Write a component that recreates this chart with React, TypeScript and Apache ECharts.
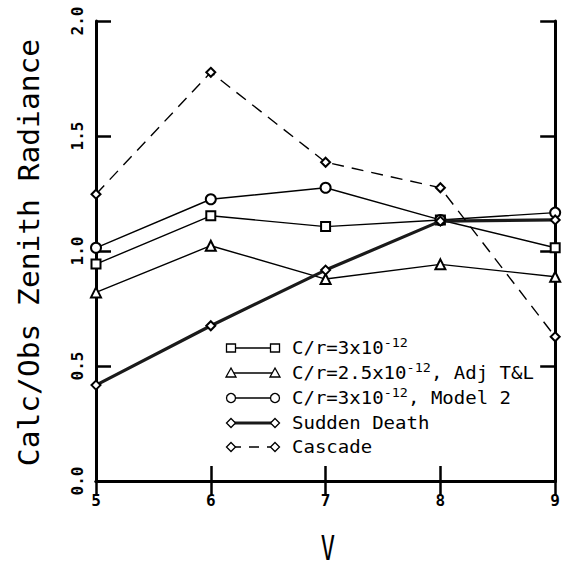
import React, { useEffect, useRef } from "react";
import * as echarts from "echarts";

const vValues = [5, 6, 7, 8, 9];
const cr3 = [0.943, 1.153, 1.106, 1.135, 1.014];
const cr25AdjTL = [0.82, 1.023, 0.878, 0.942, 0.888];
const cr3Model2 = [1.014, 1.225, 1.275, 1.135, 1.167];
const suddenDeath = [0.417, 0.675, 0.917, 1.13, 1.135];
const cascade = [1.247, 1.777, 1.386, 1.275, 0.627];

const seriesNames = [
  "C/r=3x10-12",
  "C/r=2.5x10-12, Adj T&L",
  "C/r=3x10-12, Model 2",
  "Sudden Death",
  "Cascade",
];
const legendRich = [
  "{n|C/r=3x10}{s|-12}",
  "{n|C/r=2.5x10}{s|-12}{n|, Adj T&L}",
  "{n|C/r=3x10}{s|-12}{n|, Model 2}",
  "{n|Sudden Death}",
  "{n|Cascade}",
];
const yTitle = "Calc/Obs Zenith Radiance";
const xTitle = "V";

const FONT = "DejaVu Sans Mono";

const zip = (ys: number[]) => vValues.map((v, i) => [v, ys[i]]);

export default function App() {
  const ref = useRef<HTMLDivElement>(null);
  useEffect(() => {
    if (!ref.current) return;
    const chart = echarts.init(ref.current, null, { renderer: "svg" });

    const symbols = ["emptyRect", "emptyTriangle", "emptyCircle", "emptyDiamond", "emptyDiamond"];
    const symbolSizes = [9, 10, 10, 9, 9];
    const lineStyles: any[] = [
      { color: "#000", width: 1.4, type: "solid" },
      { color: "#000", width: 1.4, type: "solid" },
      { color: "#000", width: 1.4, type: "solid" },
      { color: "#1a1a1a", width: 3.2, type: "solid" },
      { color: "#000", width: 1.4, type: [12, 8] },
    ];
    const datas = [cr3, cr25AdjTL, cr3Model2, suddenDeath, cascade];

    const series = datas.map((d, i) => ({
      name: seriesNames[i],
      type: "line",
      data: zip(d),
      symbol: symbols[i],
      symbolSize: symbolSizes[i],
      itemStyle: { color: "#000", borderColor: "#000", borderWidth: 1.3 },
      lineStyle: lineStyles[i],
      z: 3 + i,
    }));

    const legendX1 = 231;
    const legendX2 = 275;
    const legendTextX = 292;
    const rowY = [348, 373, 398, 423, 447];
    const graphic: any[] = [];
    const markerEl = (kind: string, cx: number, cy: number) => {
      const st = { fill: "#fff", stroke: "#000", lineWidth: 1.3 };
      if (kind === "rect") return { type: "rect", shape: { x: cx - 4.5, y: cy - 4, width: 9, height: 8 }, style: st, z: 10 };
      if (kind === "tri")
        return { type: "polygon", shape: { points: [[cx, cy - 5], [cx + 5, cy + 4], [cx - 5, cy + 4]] }, style: st, z: 10 };
      if (kind === "circle") return { type: "circle", shape: { cx, cy, r: 4.5 }, style: st, z: 10 };
      return { type: "polygon", shape: { points: [[cx, cy - 4.5], [cx + 4.5, cy], [cx, cy + 4.5], [cx - 4.5, cy]] }, style: st, z: 10 };
    };
    const kinds = ["rect", "tri", "circle", "diamond", "diamond"];
    rowY.forEach((y, i) => {
      const ls = lineStyles[i];
      graphic.push({
        type: "line",
        shape: { x1: legendX1, y1: y, x2: legendX2, y2: y },
        style: { stroke: ls.color, lineWidth: ls.width, lineDash: Array.isArray(ls.type) ? [10, 8] : null },
        z: 9,
      });
      graphic.push(markerEl(kinds[i], legendX1, y));
      graphic.push(markerEl(kinds[i], legendX2, y));
      graphic.push({
        type: "text",
        x: legendTextX,
        y: y,
        scaleX: 1.12,
        z: 10,
        style: {
          text: legendRich[i],
          fill: "#000",
          verticalAlign: "middle",
          align: "left",
          rich: {
            n: { fontFamily: FONT, fontSize: 17, lineHeight: 22, verticalAlign: "middle", fill: "#000" },
            s: { fontFamily: FONT, fontSize: 12, lineHeight: 12, verticalAlign: "top", fill: "#000" },
          },
        },
      });
    });

    graphic.push({
      type: "text",
      x: 29,
      y: 252.5,
      rotation: Math.PI / 2,
      scaleX: 1.02,
      style: {
        text: yTitle,
        fontFamily: FONT,
        fontSize: 29,
        fill: "#000",
        align: "center",
        verticalAlign: "middle",
      },
    });
    graphic.push({
      type: "text",
      x: 328,
      y: 549,
      scaleX: 0.72,
      style: {
        text: xTitle,
        fontFamily: FONT,
        fontSize: 33,
        lineHeight: 26,
        fill: "#000",
        align: "center",
        verticalAlign: "middle",
      },
    });

    const axisLine = { show: true, lineStyle: { color: "#000", width: 3 } };
    const axisTick = { show: true, inside: true, length: 15, lineStyle: { color: "#000", width: 2.5 } };
    const tickLabel = { fontFamily: FONT, fontSize: 16, fontWeight: "bold", color: "#000" };

    chart.setOption({
      animation: false,
      backgroundColor: "#fff",
      grid: { left: 96, right: 4, top: 21, bottom: 88, containLabel: false },
      xAxis: [
        {
          type: "value",
          min: 5,
          max: 9,
          interval: 1,
          position: "bottom",
          axisLine,
          axisTick,
          splitLine: { show: false },
          axisLabel: { ...tickLabel, margin: 11 },
        },
        {
          type: "value",
          min: 5,
          max: 9,
          interval: 1,
          position: "top",
          axisLine,
          axisTick,
          splitLine: { show: false },
          axisLabel: { show: false },
        },
      ],
      yAxis: [
        {
          type: "value",
          min: 0,
          max: 2,
          interval: 0.5,
          position: "left",
          axisLine,
          axisTick,
          splitLine: { show: false },
          axisLabel: { ...tickLabel, rotate: 90, margin: 11, formatter: (v: number) => v.toFixed(1) },
        },
        {
          type: "value",
          min: 0,
          max: 2,
          interval: 0.5,
          position: "right",
          axisLine,
          axisTick,
          splitLine: { show: false },
          axisLabel: { show: false },
        },
      ],
      series,
      graphic,
    });
    return () => chart.dispose();
  }, []);
  return <div ref={ref} style={{ position: "absolute", left: 0, top: 0, width: 563, height: 569 }} />;
}
